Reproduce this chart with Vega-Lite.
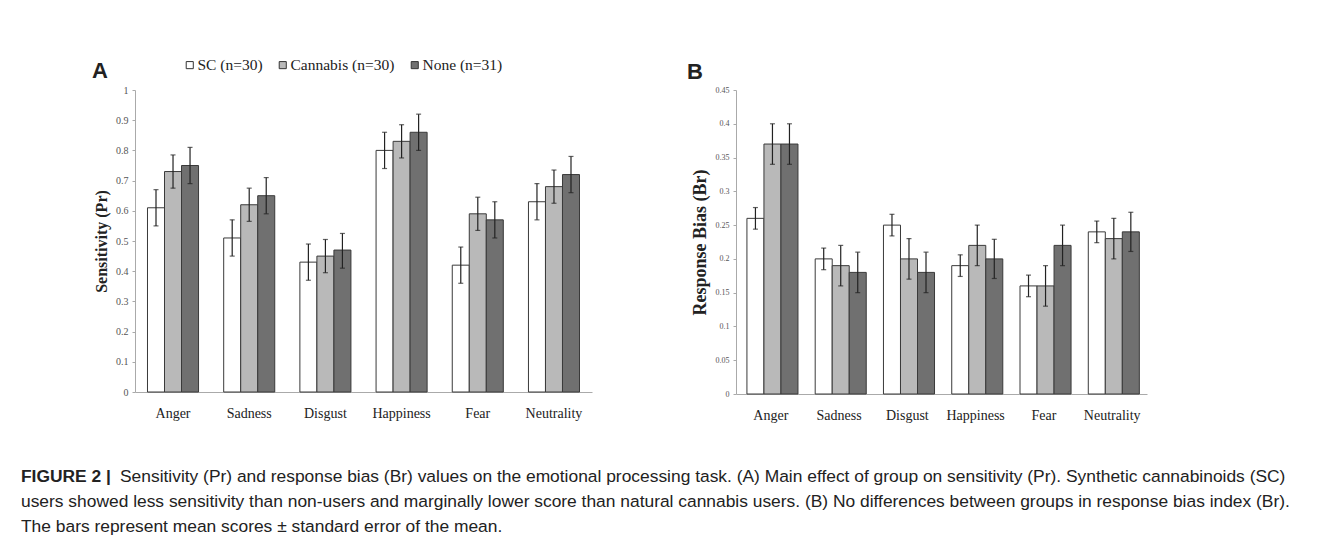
{
  "$schema": "https://vega.github.io/schema/vega-lite/v6.json",
  "background": "white",
  "padding": {"left": 21, "top": 57, "right": 0, "bottom": 0},
  "config": {
    "view": {"stroke": null},
    "font": "Liberation Serif",
    "axis": {"labelFont": "Liberation Serif", "titleFont": "Liberation Serif", "domainColor": "#aaa", "tickColor": "#aaa", "grid": false},
    "axisY": {"labelFontSize": 10, "labelColor": "#555", "tickSize": 3, "labelPadding": 4, "titleFontWeight": "bold", "titleColor": "#222", "titlePadding": 6, "format": "~g"},
    "axisX": {"title": null, "labelAngle": 0, "labelFontSize": 14, "labelColor": "#222", "ticks": false, "labelPadding": 14}
  },
  "datasets": {
    "sens": [
      {"emotion": "Anger", "group": "SC (n=30)", "mean": 0.61, "lo": 0.55, "hi": 0.67},
      {"emotion": "Anger", "group": "Cannabis (n=30)", "mean": 0.73, "lo": 0.675, "hi": 0.785},
      {"emotion": "Anger", "group": "None (n=31)", "mean": 0.75, "lo": 0.69, "hi": 0.81},
      {"emotion": "Sadness", "group": "SC (n=30)", "mean": 0.51, "lo": 0.45, "hi": 0.57},
      {"emotion": "Sadness", "group": "Cannabis (n=30)", "mean": 0.62, "lo": 0.565, "hi": 0.675},
      {"emotion": "Sadness", "group": "None (n=31)", "mean": 0.65, "lo": 0.59, "hi": 0.71},
      {"emotion": "Disgust", "group": "SC (n=30)", "mean": 0.43, "lo": 0.37, "hi": 0.49},
      {"emotion": "Disgust", "group": "Cannabis (n=30)", "mean": 0.45, "lo": 0.395, "hi": 0.505},
      {"emotion": "Disgust", "group": "None (n=31)", "mean": 0.47, "lo": 0.41, "hi": 0.525},
      {"emotion": "Happiness", "group": "SC (n=30)", "mean": 0.80, "lo": 0.74, "hi": 0.86},
      {"emotion": "Happiness", "group": "Cannabis (n=30)", "mean": 0.83, "lo": 0.775, "hi": 0.885},
      {"emotion": "Happiness", "group": "None (n=31)", "mean": 0.86, "lo": 0.80, "hi": 0.92},
      {"emotion": "Fear", "group": "SC (n=30)", "mean": 0.42, "lo": 0.36, "hi": 0.48},
      {"emotion": "Fear", "group": "Cannabis (n=30)", "mean": 0.59, "lo": 0.535, "hi": 0.645},
      {"emotion": "Fear", "group": "None (n=31)", "mean": 0.57, "lo": 0.51, "hi": 0.63},
      {"emotion": "Neutrality", "group": "SC (n=30)", "mean": 0.63, "lo": 0.57, "hi": 0.69},
      {"emotion": "Neutrality", "group": "Cannabis (n=30)", "mean": 0.68, "lo": 0.625, "hi": 0.735},
      {"emotion": "Neutrality", "group": "None (n=31)", "mean": 0.72, "lo": 0.66, "hi": 0.78}
    ],
    "bias": [
      {"emotion": "Anger", "group": "SC (n=30)", "mean": 0.26, "lo": 0.244, "hi": 0.276},
      {"emotion": "Anger", "group": "Cannabis (n=30)", "mean": 0.37, "lo": 0.34, "hi": 0.40},
      {"emotion": "Anger", "group": "None (n=31)", "mean": 0.37, "lo": 0.34, "hi": 0.40},
      {"emotion": "Sadness", "group": "SC (n=30)", "mean": 0.20, "lo": 0.184, "hi": 0.216},
      {"emotion": "Sadness", "group": "Cannabis (n=30)", "mean": 0.19, "lo": 0.16, "hi": 0.22},
      {"emotion": "Sadness", "group": "None (n=31)", "mean": 0.18, "lo": 0.15, "hi": 0.21},
      {"emotion": "Disgust", "group": "SC (n=30)", "mean": 0.25, "lo": 0.234, "hi": 0.266},
      {"emotion": "Disgust", "group": "Cannabis (n=30)", "mean": 0.20, "lo": 0.17, "hi": 0.23},
      {"emotion": "Disgust", "group": "None (n=31)", "mean": 0.18, "lo": 0.15, "hi": 0.21},
      {"emotion": "Happiness", "group": "SC (n=30)", "mean": 0.19, "lo": 0.174, "hi": 0.206},
      {"emotion": "Happiness", "group": "Cannabis (n=30)", "mean": 0.22, "lo": 0.19, "hi": 0.25},
      {"emotion": "Happiness", "group": "None (n=31)", "mean": 0.20, "lo": 0.171, "hi": 0.229},
      {"emotion": "Fear", "group": "SC (n=30)", "mean": 0.16, "lo": 0.144, "hi": 0.176},
      {"emotion": "Fear", "group": "Cannabis (n=30)", "mean": 0.16, "lo": 0.13, "hi": 0.19},
      {"emotion": "Fear", "group": "None (n=31)", "mean": 0.22, "lo": 0.19, "hi": 0.25},
      {"emotion": "Neutrality", "group": "SC (n=30)", "mean": 0.24, "lo": 0.224, "hi": 0.256},
      {"emotion": "Neutrality", "group": "Cannabis (n=30)", "mean": 0.23, "lo": 0.20, "hi": 0.26},
      {"emotion": "Neutrality", "group": "None (n=31)", "mean": 0.24, "lo": 0.211, "hi": 0.269}
    ],
    "caption": [
      {"line": 1, "weight": "bold", "text": "FIGURE 2 |"},
      {"line": 1, "weight": "normal", "text": "Sensitivity (Pr) and response bias (Br) values on the emotional processing task. (A) Main effect of group on sensitivity (Pr). Synthetic cannabinoids (SC)"},
      {"line": 2, "weight": "normal", "text": "users showed less sensitivity than non-users and marginally lower score than natural cannabis users. (B) No differences between groups in response bias index (Br)."},
      {"line": 3, "weight": "normal", "text": "The bars represent mean scores ± standard error of the mean."}
    ]
  },
  "spacing": 43,
  "vconcat": [
    {
      "spacing": 95,
      "hconcat": [
        {
          "width": 457,
          "height": 302,
          "title": {"text": "A", "anchor": "start", "frame": "group", "dx": -43, "offset": 2, "font": "Liberation Sans", "fontSize": 22, "fontWeight": "bold", "color": "#222"},
          "data": {"name": "sens"},
          "encoding": {
            "x": {"field": "emotion", "type": "nominal", "sort": ["Anger", "Sadness", "Disgust", "Happiness", "Fear", "Neutrality"],
              "scale": {"paddingInner": 0.33, "paddingOuter": 0.164}},
            "xOffset": {"field": "group", "sort": ["SC (n=30)", "Cannabis (n=30)", "None (n=31)"], "scale": {"paddingInner": 0, "paddingOuter": 0}}
          },
          "layer": [
            {
              "mark": {"type": "bar", "stroke": "#3a3a3a", "strokeWidth": 1},
              "encoding": {
                "y": {"field": "mean", "type": "quantitative", "scale": {"domain": [0, 1]},
                  "axis": {"title": "Sensitivity (Pr)", "titleFontSize": 16, "values": [0, 0.1, 0.2, 0.3, 0.4, 0.5, 0.6, 0.7, 0.8, 0.9, 1]}},
                "color": {"field": "group", "type": "nominal",
                  "scale": {"domain": ["SC (n=30)", "Cannabis (n=30)", "None (n=31)"], "range": ["#ffffff", "#b9b9b9", "#707070"]},
                  "legend": {"orient": "none", "legendX": 47, "legendY": -33, "direction": "horizontal", "title": null, "symbolType": "square", "symbolSize": 50, "symbolStrokeColor": "#333", "symbolStrokeWidth": 1, "labelFont": "Liberation Serif", "labelFontSize": 15.5, "labelColor": "#222", "columnPadding": 12, "labelOffset": 0, "padding": 0}}
              }
            },
            {
              "mark": {"type": "rule", "color": "#222", "strokeWidth": 1.2},
              "encoding": {"y": {"field": "lo", "type": "quantitative", "axis": {"title": "Sensitivity (Pr)", "titleFontSize": 16, "values": [0, 0.1, 0.2, 0.3, 0.4, 0.5, 0.6, 0.7, 0.8, 0.9, 1]}}, "y2": {"field": "hi"}}
            },
            {
              "mark": {"type": "tick", "color": "#222", "size": 5, "thickness": 1.2},
              "encoding": {"y": {"field": "hi", "type": "quantitative", "axis": {"title": "Sensitivity (Pr)", "titleFontSize": 16, "values": [0, 0.1, 0.2, 0.3, 0.4, 0.5, 0.6, 0.7, 0.8, 0.9, 1]}}}
            },
            {
              "mark": {"type": "tick", "color": "#222", "size": 5, "thickness": 1.2},
              "encoding": {"y": {"field": "lo", "type": "quantitative", "axis": {"title": "Sensitivity (Pr)", "titleFontSize": 16, "values": [0, 0.1, 0.2, 0.3, 0.4, 0.5, 0.6, 0.7, 0.8, 0.9, 1]}}}
            }
          ]
        },
        {
          "width": 411,
          "height": 304,
          "title": {"text": "B", "anchor": "start", "frame": "group", "dx": -49, "offset": 2, "font": "Liberation Sans", "fontSize": 22, "fontWeight": "bold", "color": "#222"},
          "data": {"name": "bias"},
          "encoding": {
            "x": {"field": "emotion", "type": "nominal", "sort": ["Anger", "Sadness", "Disgust", "Happiness", "Fear", "Neutrality"],
              "scale": {"paddingInner": 0.3, "paddingOuter": 0.16}},
            "xOffset": {"field": "group", "sort": ["SC (n=30)", "Cannabis (n=30)", "None (n=31)"], "scale": {"paddingInner": 0, "paddingOuter": 0}}
          },
          "layer": [
            {
              "mark": {"type": "bar", "stroke": "#3a3a3a", "strokeWidth": 1},
              "encoding": {
                "y": {"field": "mean", "type": "quantitative", "scale": {"domain": [0, 0.45]},
                  "axis": {"title": "Response Bias (Br)", "titleFontSize": 18, "labelFontSize": 8, "values": [0, 0.05, 0.1, 0.15, 0.2, 0.25, 0.3, 0.35, 0.4, 0.45]}},
                "color": {"field": "group", "type": "nominal",
                  "scale": {"domain": ["SC (n=30)", "Cannabis (n=30)", "None (n=31)"], "range": ["#ffffff", "#b9b9b9", "#707070"]},
                  "legend": null}
              }
            },
            {
              "mark": {"type": "rule", "color": "#222", "strokeWidth": 1.2},
              "encoding": {"y": {"field": "lo", "type": "quantitative", "axis": {"title": "Response Bias (Br)", "titleFontSize": 18, "labelFontSize": 8, "values": [0, 0.05, 0.1, 0.15, 0.2, 0.25, 0.3, 0.35, 0.4, 0.45]}}, "y2": {"field": "hi"}}
            },
            {
              "mark": {"type": "tick", "color": "#222", "size": 5, "thickness": 1.2},
              "encoding": {"y": {"field": "hi", "type": "quantitative", "axis": {"title": "Response Bias (Br)", "titleFontSize": 18, "labelFontSize": 8, "values": [0, 0.05, 0.1, 0.15, 0.2, 0.25, 0.3, 0.35, 0.4, 0.45]}}}
            },
            {
              "mark": {"type": "tick", "color": "#222", "size": 5, "thickness": 1.2},
              "encoding": {"y": {"field": "lo", "type": "quantitative", "axis": {"title": "Response Bias (Br)", "titleFontSize": 18, "labelFontSize": 8, "values": [0, 0.05, 0.1, 0.15, 0.2, 0.25, 0.3, 0.35, 0.4, 0.45]}}}
            }
          ]
        }
      ]
    },
    {
      "width": 1300,
      "height": 74,
      "data": {"name": "caption"},
      "layer": [
        {
          "transform": [{"filter": "datum.weight === 'bold'"}],
          "mark": {"type": "text", "align": "left", "baseline": "middle", "font": "Liberation Sans", "fontSize": 17.4, "fontWeight": "bold", "color": "#222", "dx": -114},
          "encoding": {
            "x": {"datum": 0, "type": "quantitative", "scale": {"domain": [0, 1]}, "axis": null},
            "y": {"field": "line", "type": "ordinal", "axis": null},
            "text": {"field": "text"}
          }
        },
        {
          "transform": [{"filter": "datum.weight === 'normal' && datum.line === 1"}],
          "mark": {"type": "text", "align": "left", "baseline": "middle", "font": "Liberation Sans", "fontSize": 17.4, "color": "#222", "dx": -15},
          "encoding": {
            "x": {"datum": 0, "type": "quantitative", "scale": {"domain": [0, 1]}, "axis": null},
            "y": {"field": "line", "type": "ordinal", "axis": null},
            "text": {"field": "text"}
          }
        },
        {
          "transform": [{"filter": "datum.weight === 'normal' && datum.line > 1"}],
          "mark": {"type": "text", "align": "left", "baseline": "middle", "font": "Liberation Sans", "fontSize": 17.4, "color": "#222", "dx": -114},
          "encoding": {
            "x": {"datum": 0, "type": "quantitative", "scale": {"domain": [0, 1]}, "axis": null},
            "y": {"field": "line", "type": "ordinal", "axis": null},
            "text": {"field": "text"}
          }
        }
      ]
    }
  ]
}
